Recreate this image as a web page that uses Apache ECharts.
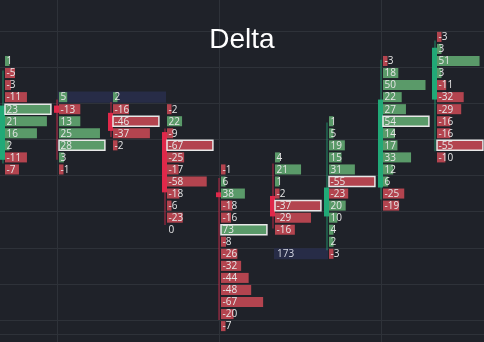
<!DOCTYPE html>
<html>
<head>
<meta charset="utf-8">
<title>Delta</title>
<script src="https://cdn.jsdelivr.net/npm/echarts@6/dist/echarts.min.js"></script>
<style>
html,body{margin:0;padding:0;background:#1f2229;}
#echart{width:484px;height:342px;}
</style>
</head>
<body>
<div id="echart"></div>
<script>
// 每根K线在x轴上的位置
var columns = [2, 3, 4, 5, 6, 7, 8, 9, 10];
// 每列最上面一格的价格
var topLevels = [27.5, 24.5, 24.5, 23.5, 18.5, 19.5, 22.5, 27.5, 29.5];
// 每列的delta, 从上往下
var deltas = [
	[1, -5, -3, -11, 23, 21, 16, 2, -11, -7],
	[5, -13, 13, 25, 28, 3, -1],
	[2, -16, -46, -37, -2],
	[-2, 22, -9, -67, -25, -17, -58, -18, -6, -23, 0],
	[-1, 6, 38, -18, -16, 73, -8, -26, -32, -44, -48, -67, -20, -7],
	[4, 21, 1, -2, -37, -29, -16],
	[1, 5, 19, 15, 31, -55, -23, 20, 10, 4, 2, -3],
	[-3, 18, 50, 22, 27, 54, 14, 17, 33, 12, 6, -25, -19],
	[-3, 3, 51, 3, -11, -32, -29, -16, -16, -55, -10]
];
// K线 开 收 低 高
var opens  = [19.3, 23.8, 23.2, 21.6, 16.6, 16.3, 14.6, 17.0, 24.3];
var closes = [23.8, 23.2, 21.7, 16.6, 16.2, 14.6, 17.0, 24.3, 28.6];
var lows   = [19.0, 19.3, 21.2, 13.9, 6.0, 13.6, 11.8, 16.0, 20.0];
var highs  = [26.7, 24.3, 24.1, 21.9, 17.8, 19.0, 22.4, 27.6, 29.2];
// 高亮区: 起始列位置, 跨几列, 价格, 文字
var zoneStart = [3, 7];
var zoneSpan = [2, 1];
var zoneLevel = [24.5, 11.5];
var zoneText = ['', '173'];

var GREEN_BAR = '#5a9a69';
var RED_BAR = '#b3444f';
var GREEN_CANDLE = '#21a977';
var RED_CANDLE = '#e0284a';
var GRID_COLOR = '#2e3239';

function buildCells(){
	var list = [];
	for (var i = 0; i < deltas.length; i++) {
		var max = 0;
		for (var j = 0; j < deltas[i].length; j++) {
			max = Math.max(max, Math.abs(deltas[i][j]));
		}
		for (var k = 0; k < deltas[i].length; k++) {
			list.push([columns[i], topLevels[i] - k, deltas[i][k], max]);
		}
	}
	return list;
}

function buildCandles(){
	var list = [];
	for (var i = 0; i < columns.length; i++) {
		list.push([columns[i], opens[i], closes[i], lows[i], highs[i]]);
	}
	return list;
}

function buildZones(){
	var list = [];
	for (var i = 0; i < zoneStart.length; i++) {
		list.push([zoneStart[i], zoneLevel[i], zoneSpan[i], zoneText[i]]);
	}
	return list;
}

function renderCell(params, api){
	var pt = api.coord([api.value(0), api.value(1)]);
	var colW = api.size([1, 0])[0];
	var rowH = api.size([0, 1])[1];
	var v = api.value(2);
	var max = api.value(3);
	var h = rowH - 2;
	var x = Math.round(pt[0]) + 2;
	var y = pt[1] - h / 2;
	var children = [];
	if (v !== 0) {
		var w = Math.max(4.5, Math.abs(v) / max * colW * 0.85);
		var isMax = Math.abs(v) === max;
		children.push({
			type: 'rect',
			shape: {x: x, y: y, width: w, height: h},
			style: {
				fill: v > 0 ? GREEN_BAR : RED_BAR,
				stroke: isMax ? '#e8e8e8' : null,
				lineWidth: isMax ? 1.5 : 0
			}
		});
	}
	children.push({
		type: 'text',
		style: {
			text: String(v),
			x: x + 1.5,
			y: pt[1] + 0.5,
			align: 'left',
			verticalAlign: 'middle',
			fill: '#e6e6e6',
			font: '10px "Open Sans"'
		}
	});
	return {type: 'group', children: children};
}

function renderCandle(params, api){
	var x = Math.round(api.coord([api.value(0), 0])[0]);
	var o = api.coord([0, api.value(1)])[1];
	var c = api.coord([0, api.value(2)])[1];
	var lo = api.coord([0, api.value(3)])[1];
	var hi = api.coord([0, api.value(4)])[1];
	var color = api.value(2) >= api.value(1) ? GREEN_CANDLE : RED_CANDLE;
	return {
		type: 'group',
		children: [
			{type: 'line', shape: {x1: x, y1: hi, x2: x, y2: lo}, style: {stroke: color, lineWidth: 2, opacity: 0.4}},
			{type: 'rect', shape: {x: x - 3, y: Math.min(o, c), width: 5, height: Math.max(2, Math.abs(o - c))}, style: {fill: color}}
		]
	};
}

function renderZone(params, api){
	var pt = api.coord([api.value(0), api.value(1)]);
	var colW = api.size([1, 0])[0];
	var rowH = api.size([0, 1])[1];
	var x = Math.round(pt[0]) + 1;
	var h = rowH - 1;
	return {
		type: 'group',
		children: [
			{type: 'rect', shape: {x: x, y: pt[1] - h / 2, width: api.value(2) * colW, height: h}, style: {fill: '#272c47'}},
			{type: 'text', style: {text: api.value(3), x: x + 3, y: pt[1] + 0.5, align: 'left', verticalAlign: 'middle', fill: '#d6d9e4', font: '10px "Open Sans"'}}
		]
	};
}

function showEchart(){
	var myChart = echarts.init(document.getElementById('echart'));
	var option = {
		backgroundColor: '#1f2229',
		animation: false,
		title: {
			text: 'Delta',
			left: 'center',
			top: 21,
			textStyle: {color: '#ffffff', fontSize: 28, fontWeight: 'normal', fontFamily: '"Liberation Sans", Arial'}
		},
		grid: {left: -105, right: -59, top: -5.3, bottom: -50.4, outerBoundsMode: 'none'},
		xAxis: {
			type: 'value', min: 0, max: 12, interval: 3,
			axisLine: {show: false}, axisTick: {show: false}, axisLabel: {show: false},
			splitLine: {show: true, lineStyle: {color: GRID_COLOR, width: 1}}
		},
		yAxis: {
			type: 'value', min: 0, max: 33, interval: 3,
			axisLine: {show: false}, axisTick: {show: false}, axisLabel: {show: false},
			splitLine: {show: true, lineStyle: {color: GRID_COLOR, width: 1}}
		},
		graphic: [
			{type: 'rect', left: 0, top: 334, shape: {width: 484, height: 1}, style: {fill: GRID_COLOR}, z: 0}
		],
		series: [
			{type: 'custom', renderItem: renderZone, data: buildZones(), encode: {x: 0, y: 1}, z: 1},
			{type: 'custom', renderItem: renderCandle, data: buildCandles(), encode: {x: 0, y: [1, 2, 3, 4]}, z: 2},
			{type: 'custom', renderItem: renderCell, data: buildCells(), encode: {x: 0, y: 1}, z: 3}
		]
	};
	myChart.setOption(option);
}

showEchart();
</script>
</body>
</html>
